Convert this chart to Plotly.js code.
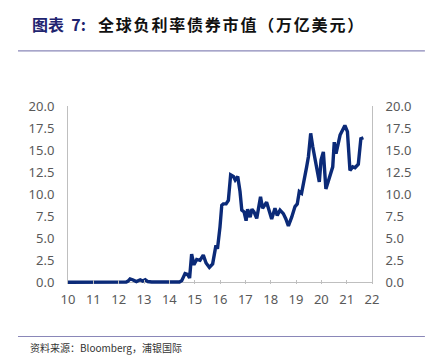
<!DOCTYPE html>
<html><head><meta charset="utf-8">
<script src="https://cdn.plot.ly/plotly-3.0.1.min.js"></script>
<style>html,body{margin:0;padding:0;background:#fff;}#chart{width:430px;height:363px;}</style>
</head><body><div id="chart"></div>
<script>
// Decimal year (e.g. 15.5 = mid-2015) and value (trillion USD)
var years = [10.0,10.5,11.0,11.5,12.0,12.3,12.37,12.45,12.55,12.7,12.85,12.95,13.05,13.15,13.3,13.8,14.4,14.49,14.62,14.72,14.8,14.88,14.97,15.08,15.21,15.34,15.45,15.58,15.71,15.84,15.9,16.0,16.07,16.13,16.24,16.33,16.42,16.53,16.6,16.7,16.79,16.86,16.95,17.03,17.09,17.19,17.26,17.34,17.45,17.6,17.68,17.84,17.97,18.04,18.17,18.26,18.37,18.5,18.6,18.7,18.83,18.96,19.05,19.13,19.22,19.29,19.42,19.49,19.58,19.66,19.79,19.92,19.99,20.08,20.18,20.32,20.45,20.51,20.58,20.74,20.93,21.03,21.13,21.24,21.33,21.46,21.56,21.66];
var values = [0.02,0.02,0.03,0.03,0.04,0.05,0.15,0.4,0.3,0.1,0.3,0.15,0.3,0.1,0.05,0.05,0.05,0.2,1.0,0.9,0.5,3.2,2.0,2.6,2.5,3.1,2.2,1.7,2.1,4.2,3.8,6.3,8.75,8.9,8.9,9.3,12.2,12.0,11.6,12.0,10.3,8.2,8.0,7.0,8.3,7.4,8.3,8.0,7.25,9.7,8.4,9.1,8.0,7.2,8.4,7.6,8.2,7.8,7.2,6.4,7.4,8.6,8.9,10.3,10.1,11.0,13.1,14.25,16.9,15.4,13.3,11.4,13.9,14.8,10.6,12.0,13.1,15.9,14.6,16.7,17.8,17.1,12.7,13.1,13.0,13.4,16.3,16.4];
var xTicks = [10,11,12,13,14,15,16,17,18,19,20,21,22];
var xTickLabels = ["10","11","12","13","14","15","16","17","18","19","20","21","22"];
var yTicks = [0,2.5,5,7.5,10,12.5,15,17.5,20];
var yTickLabels = ["0.0","2.5","5.0","7.5","10.0","12.5","15.0","17.5","20.0"];
var titleLabel = '图表  7:';
var titleText = '全球负利率债券市值（万亿美元）';
var sourceText = '资料来源：Bloomberg，浦银国际';

var tickFont = {family:'Noto Sans, sans-serif', size:13, color:'#595959'};
var traces = [
  {x:years, y:values, type:'scatter', mode:'lines', line:{color:'#0b2a78', width:3.4}, hoverinfo:'skip'},
  {x:years, y:values, type:'scatter', mode:'lines', yaxis:'y2', line:{color:'rgba(0,0,0,0)', width:0}, hoverinfo:'skip'}
];
var layout = {
  width:430, height:363,
  margin:{l:68, r:58, t:106, b:79.4},
  paper_bgcolor:'#fff', plot_bgcolor:'#fff',
  showlegend:false,
  xaxis:{range:[10,22], tickvals:xTicks, ticktext:xTickLabels, showgrid:false, zeroline:false,
         showline:false, ticks:'inside', ticklen:4, tickcolor:'#bfbfbf', tickfont:tickFont, ticklabelstandoff:6},
  yaxis:{range:[-0.18,20], tickvals:yTicks, ticktext:yTickLabels, showgrid:false, zeroline:true, zerolinecolor:'#bfbfbf', zerolinewidth:1,
         showline:true, linecolor:'#bfbfbf', linewidth:1, ticks:'', tickfont:tickFont, ticklabelstandoff:10},
  yaxis2:{range:[-0.18,20], overlaying:'y', side:'right', tickvals:yTicks, ticktext:yTickLabels, showgrid:false, zeroline:false,
         showline:true, linecolor:'#bfbfbf', linewidth:1, ticks:'', tickfont:tickFont, ticklabelstandoff:10},
  shapes:[
    {type:'line', xref:'paper', yref:'paper', x0:-0.1645, x1:1.174, y0:(283.6-51)/177.6, y1:(283.6-51)/177.6, line:{color:'#8a87b8', width:1.2}},
    {type:'line', xref:'paper', yref:'paper', x0:-0.1645, x1:1.174, y0:(283.6-336)/177.6, y1:(283.6-336)/177.6, line:{color:'#8a87b8', width:1.2}}
  ],
  annotations:[
    {xref:'paper', yref:'paper', x:(30-68)/304, y:(283.6-24)/177.6, xanchor:'left', yanchor:'middle', showarrow:false,
     text:'<b>'+titleLabel+'</b>', font:{family:'Noto Sans CJK SC, sans-serif', size:16, color:'#1f2470'}},
    {xref:'paper', yref:'paper', x:(96-68)/304, y:(283.6-24)/177.6, xanchor:'left', yanchor:'middle', showarrow:false,
     text:'<b><span style="letter-spacing:1.8px">'+titleText+'</span></b>', font:{family:'Noto Sans CJK SC, sans-serif', size:16, color:'#111'}},
    {xref:'paper', yref:'paper', x:(28-68)/304, y:(283.6-347)/177.6, xanchor:'left', yanchor:'middle', showarrow:false,
     text:sourceText, font:{family:'Noto Sans CJK SC, sans-serif', size:10, color:'#333'}}
  ]
};
Plotly.newPlot('chart', traces, layout, {staticPlot:true, displayModeBar:false});
</script></body></html>
